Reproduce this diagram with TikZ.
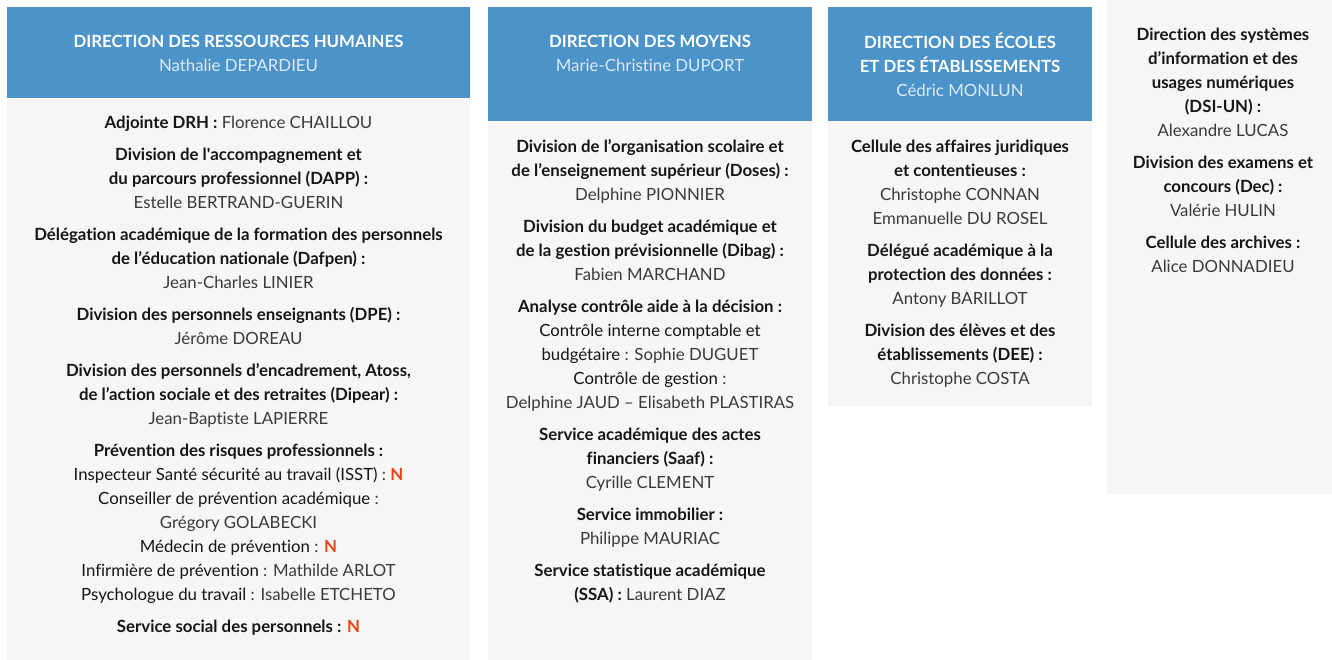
\documentclass[tikz,border=0pt]{standalone}
\usepackage{fontspec}
\setmainfont{Lato}[Ligatures={TeX,NoCommon}]

\definecolor{headblue}{RGB}{75,147,200}
\definecolor{headname}{RGB}{220,234,246}
\definecolor{panelgrey}{RGB}{246,246,246}
\definecolor{inkdark}{RGB}{22,22,22}
\definecolor{inkgrey}{RGB}{58,58,58}
\definecolor{vacred}{RGB}{229,70,20}

% text nodes are placed at the baseline of their last line
\tikzset{
  headfill/.style={fill=headblue},
  panelfill/.style={fill=panelgrey},
  headtxt/.style={anchor=base, align=center, inner sep=0pt, text=white,
    yshift=-1.5pt, font=\fontsize{16.8}{24}\selectfont\bfseries},
  blocktxt/.style={anchor=base, align=center, inner sep=0pt, text=inkdark,
    yshift=-1.5pt, font=\fontsize{16.8}{24}\selectfont},
}

\newcommand{\ttl}[1]{\textbf{#1}}
\newcommand{\who}[1]{{\color{inkgrey}#1}}
\newcommand{\hname}[1]{{\mdseries\color{headname}#1}}
\newcommand{\vacant}{\textbf{\color{vacred}N}}

\begin{document}
\begin{tikzpicture}[x=1pt, y=-1pt]
  \useasboundingbox (0,0) rectangle (1332,660);

  % Panels
  \fill[panelfill] (7,97) rectangle (470,660);
  \fill[panelfill] (488,120) rectangle (812,660);
  \fill[panelfill] (828,120) rectangle (1092,406);
  \fill[panelfill] (1107,0) rectangle (1332,494);

  % Headers
  \fill[headfill] (7,7) rectangle (470,98);
  \fill[headfill] (488,7) rectangle (812,121);
  \fill[headfill] (828,7) rectangle (1092,121);

  % Direction des ressources humaines
  \node[headtxt] (drh) at (238.5,70.5)
    {DIRECTION DES RESSOURCES HUMAINES\\\hname{Nathalie DEPARDIEU}};
  \node[blocktxt] (drh-adj) at (238.5,127)
    {\ttl{Adjointe DRH :} \who{Florence CHAILLOU}};
  \node[blocktxt] (drh-dapp) at (238.5,207)
    {\ttl{Division de l\textquotesingle{}accompagnement et}\\
     \ttl{du parcours professionnel (DAPP) :}\\
     \who{Estelle BERTRAND-GUERIN}};
  \node[blocktxt] (drh-dafpen) at (238.5,287)
    {\ttl{Délégation académique de la formation des personnels}\\
     \ttl{de l’éducation nationale (Dafpen) :}\\
     \who{Jean-Charles LINIER}};
  \node[blocktxt] (drh-dpe) at (238.5,343)
    {\ttl{Division des personnels enseignants (DPE) :}\\
     \who{Jérôme DOREAU}};
  \node[blocktxt] (drh-dipear) at (238.5,423)
    {\ttl{Division des personnels d’encadrement, Atoss,}\\
     \ttl{de l’action sociale et des retraites (Dipear) :}\\
     \who{Jean-Baptiste LAPIERRE}};
  \node[blocktxt] (drh-prev) at (238.5,599)
    {\ttl{Prévention des risques professionnels :}\\
     Inspecteur Santé sécurité au travail (ISST) \who{:} \vacant\\
     Conseiller de prévention académique \who{:}\\
     \who{Grégory GOLABECKI}\\
     Médecin de prévention \who{:} \vacant\\
     Infirmière de prévention \who{: Mathilde ARLOT}\\
     Psychologue du travail \who{: Isabelle ETCHETO}};
  \node[blocktxt] (drh-social) at (238.5,631)
    {\ttl{Service social des personnels :} \vacant};

  % Direction des moyens
  \node[headtxt] (dm) at (650,70.5)
    {DIRECTION DES MOYENS\\\hname{Marie-Christine DUPORT}};
  \node[blocktxt] (dm-doses) at (650,199)
    {\ttl{Division de l’organisation scolaire et}\\
     \ttl{de l’enseignement supérieur (Doses) :}\\
     \who{Delphine PIONNIER}};
  \node[blocktxt] (dm-dibag) at (650,279)
    {\ttl{Division du budget académique et}\\
     \ttl{de la gestion prévisionnelle (Dibag) :}\\
     \who{Fabien MARCHAND}};
  \node[blocktxt] (dm-acad) at (650,407)
    {\ttl{Analyse contrôle aide à la décision :}\\
     Contrôle interne comptable et\\
     budgétaire \who{: Sophie DUGUET}\\
     Contrôle de gestion \who{:}\\
     \who{Delphine JAUD – Elisabeth PLASTIRAS}};
  \node[blocktxt] (dm-saaf) at (650,487)
    {\ttl{Service académique des actes}\\
     \ttl{financiers (Saaf) :}\\
     \who{Cyrille CLEMENT}};
  \node[blocktxt] (dm-immo) at (650,543)
    {\ttl{Service immobilier :}\\
     \who{Philippe MAURIAC}};
  \node[blocktxt] (dm-ssa) at (650,599)
    {\ttl{Service statistique académique}\\
     \ttl{(SSA) :} \who{Laurent DIAZ}};

  % Direction des ecoles et des etablissements
  \node[headtxt] (dee) at (960,95)
    {DIRECTION DES ÉCOLES\\ET DES ÉTABLISSEMENTS\\\hname{Cédric MONLUN}};
  \node[blocktxt] (dee-cajc) at (960,223)
    {\ttl{Cellule des affaires juridiques}\\
     \ttl{et contentieuses :}\\
     \who{Christophe CONNAN}\\
     \who{Emmanuelle DU ROSEL}};
  \node[blocktxt] (dee-dpd) at (960,303)
    {\ttl{Délégué académique à la}\\
     \ttl{protection des données :}\\
     \who{Antony BARILLOT}};
  \node[blocktxt] (dee-div) at (960,383)
    {\ttl{Division des élèves et des}\\
     \ttl{établissements (DEE) :}\\
     \who{Christophe COSTA}};

  % Services rattaches
  \node[blocktxt] (dsi) at (1223,135)
    {\ttl{Direction des systèmes}\\
     \ttl{d’information et des}\\
     \ttl{usages numériques}\\
     \ttl{(DSI-UN) :}\\
     \who{Alexandre LUCAS}};
  \node[blocktxt] (dec) at (1223,215)
    {\ttl{Division des examens et}\\
     \ttl{concours (Dec) :}\\
     \who{Valérie HULIN}};
  \node[blocktxt] (arch) at (1223,271)
    {\ttl{Cellule des archives :}\\
     \who{Alice DONNADIEU}};
\end{tikzpicture}
\end{document}
